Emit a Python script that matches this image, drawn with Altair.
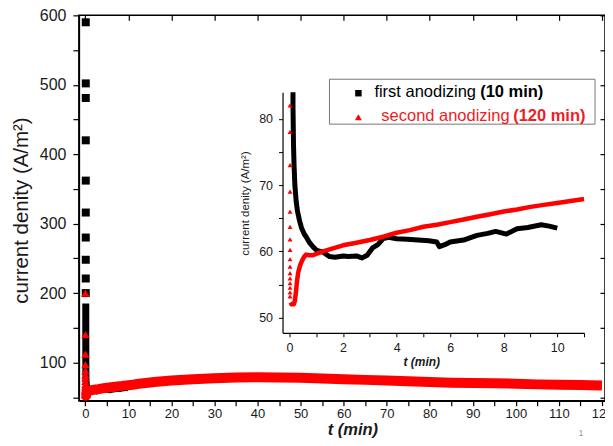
import altair as alt
import pandas as pd

# ---------------- data ----------------
# first anodizing (10 min): isolated start-up spike points
first_spike_t = [0.10, 0.10, 0.10, 0.10, 0.10, 0.10, 0.10, 0.10, 0.10, 0.10]
first_spike_j = [590, 502, 481, 420, 362, 316, 280, 248, 221, 200]
# first anodizing: dense recording
first_t = [0.10, 0.10, 0.10, 0.10, 0.10, 0.11, 0.11, 0.11, 0.11, 0.12, 0.12, 0.12, 0.12, 0.12,
           0.13, 0.13, 0.14, 0.15, 0.17, 0.20, 0.25, 0.30, 0.37, 0.45, 0.55, 0.62, 0.75, 0.87,
           1.00, 1.12, 1.25, 1.38, 1.50, 1.70, 2.00, 2.20, 2.50, 2.70, 2.90, 3.10, 3.30, 3.50,
           3.70, 4.00, 4.40, 4.80, 5.20, 5.50, 5.60, 5.80, 6.00, 6.50, 7.00, 7.40, 7.70, 8.10,
           8.50, 8.90, 9.40, 9.70, 10.00]
first_j = [185, 172, 160, 150, 140, 130, 121, 113, 106, 100, 95, 91, 88, 86,
           84, 82, 79, 76, 73, 70, 67.5, 66, 64.7, 63.5, 62.6, 62.2, 61.3, 60.7,
           60.2, 60.0, 59.9, 59.5, 59.2, 59.1, 59.3, 59.2, 59.3, 59.0, 59.4, 60.5, 61.0, 61.9,
           62.1, 61.9, 61.8, 61.7, 61.6, 61.4, 60.7, 61.0, 61.4, 61.7, 62.4, 62.7, 63.0,
           62.6, 63.4, 63.6, 64.0, 63.8, 63.5]
# second anodizing (120 min): isolated start-up spike points
second_spike_t = [0.02, 0.02, 0.02, 0.02, 0.02, 0.02, 0.02, 0.02, 0.02, 0.02, 0.02,
                  0.02, 0.02, 0.02, 0.02, 0.02, 0.02, 0.02, 0.02, 0.02, 0.02]
second_spike_j = [200, 140, 112, 97, 88, 82, 78, 73, 69, 66, 63.7,
                  61.8, 60.2, 58.8, 57.7, 56.7, 55.9, 55.2, 54.5, 53.8, 53.2]
# second anodizing: dense recording
second_t = [0.04, 0.08, 0.12, 0.16, 0.20, 0.24, 0.28, 0.33, 0.40, 0.47, 0.55, 0.62, 0.75, 0.87,
            1.0, 1.25, 1.5, 2.0, 2.5, 3.0, 3.5, 4.0, 4.5, 5.0, 5.5, 6.0, 6.5, 7.0, 7.5, 8.0,
            8.5, 9.0, 9.5, 10.0, 10.5, 11.0, 12, 14, 16, 18, 20, 25, 30, 35, 40, 45, 50, 55,
            60, 65, 70, 75, 80, 85, 90, 95, 100, 105, 110, 115, 120]
second_j = [52.3, 52.0, 52.0, 52.0, 52.5, 53.8, 55.5, 56.9, 57.9, 58.6, 59.2, 59.5, 59.4, 59.4,
            59.6, 60.0, 60.3, 60.9, 61.3, 61.7, 62.2, 62.8, 63.2, 63.7, 64.0, 64.4, 64.8, 65.2,
            65.6, 66.0, 66.3, 66.7, 67.0, 67.3, 67.6, 67.9, 69.0, 70.5, 72.0, 73.0, 74.0, 76.0,
            77.3, 78.3, 78.8, 78.5, 78.0, 77.0, 76.0, 75.0, 74.0, 73.0, 72.0, 71.0, 70.5, 70.0,
            69.5, 68.5, 68.0, 67.5, 67.0]

# axis ticks / labels
x_ticks = [0, 5, 10, 15, 20, 25, 30, 35, 40, 45, 50, 55, 60, 65, 70, 75, 80, 85, 90, 95,
           100, 105, 110, 115, 120]
x_top_ticks = [0, 10, 20, 30, 40, 50, 60, 70, 80, 90, 100, 110, 120]
y_ticks = [50, 100, 150, 200, 250, 300, 350, 400, 450, 500, 550, 600]
inset_x_ticks = [0, 1, 2, 3, 4, 5, 6, 7, 8, 9, 10, 11]
inset_y_ticks = [50, 55, 60, 65, 70, 75, 80]

legend_plain = ["first anodizing ", "second anodizing "]
legend_bold = ["(10 min)", "(120 min)"]
y_title = "current denity (A/m\u00b2)"
x_title = "t (min)"


def frame(t, j):
    return pd.DataFrame({"t": t, "j": j, "k": list(range(len(t)))})


fs = frame(first_spike_t, first_spike_j)
fc = frame(first_t, first_j)
ss = frame(second_spike_t, second_spike_j)
sc = frame(second_t, second_j)

FONT = "Liberation Sans"
RED = "#ff0000"
TXT = "#1a1a1a"

main_x = alt.Scale(domain=[-1.5, 120.7], nice=False, zero=False)
main_y = alt.Scale(domain=[45, 600], nice=False, zero=False)
ins_x = alt.Scale(domain=[-0.26, 11.0], range=[204, 506], nice=False, zero=False)
ins_y = alt.Scale(domain=[47.7, 84.0], range=[318, 77], nice=False, zero=False)

x_axis_main = alt.Axis(
    orient="bottom", values=x_ticks,
    labelExpr="datum.value % 10 === 0 ? datum.label : ''",
    labelFontSize=13, labelColor=TXT, labelPadding=2, labelFlush=False, labelOverlap=False,
    tickSize=5, tickColor="black", tickWidth=1.2,
    domainColor="black", domainWidth=1.5, grid=False,
    title=x_title, titleFontSize=16.5, titleFontStyle="italic", titleFontWeight="bold",
    titleColor=TXT, titleX=274, titleY=34, titleAlign="center", titleBaseline="alphabetic",
)
y_axis_main = alt.Axis(
    orient="left", values=y_ticks,
    labelExpr="datum.value % 100 === 0 ? datum.label : ''",
    labelFontSize=16, labelColor=TXT, labelPadding=7, labelFlush=False, labelOverlap=False,
    tickSize=6, tickColor="black", tickWidth=1.2,
    domainColor="black", domainWidth=1.5, grid=False,
    title=y_title, titleFontSize=20.5, titleFontWeight="normal", titleColor=TXT,
    titleAngle=270, titleX=-57, titleY=195, titleAlign="center", titleBaseline="middle",
)
x_axis_top = alt.Axis(orient="top", values=x_top_ticks, labels=False, domain=False,
                      tickSize=5, tickColor="black", tickWidth=1.2, offset=-5, grid=False,
                      title=None)
y_axis_right = alt.Axis(orient="right", values=y_ticks, labels=False, domain=False,
                        tickSize=5, tickColor="black", tickWidth=1.2, offset=-5, grid=False,
                        title=None)
x_axis_ins = alt.Axis(
    orient="bottom", offset=-68, values=inset_x_ticks,
    labelExpr="(datum.value % 2 === 0 && datum.value <= 10) ? datum.label : ''",
    labelFontSize=12.5, labelColor=TXT, labelPadding=5, labelFlush=False, labelOverlap=False,
    tickSize=4, tickColor="black", tickWidth=1, domainColor="black", domainWidth=1.2,
    grid=False, title=x_title, titleFontSize=12, titleFontStyle="italic",
    titleFontWeight="bold", titleColor=TXT, titleX=343, titleY=29,
    titleAlign="center", titleBaseline="middle",
)
y_axis_ins = alt.Axis(
    orient="left", offset=-204, values=inset_y_ticks,
    labelExpr="datum.value % 10 === 0 ? datum.label : ''",
    labelFontSize=12.5, labelColor=TXT, labelPadding=6, labelFlush=False, labelOverlap=False,
    tickSize=4, tickColor="black", tickWidth=1, domainColor="black", domainWidth=1.2,
    grid=False, title=y_title, titleFontSize=11.5, titleFontWeight="normal",
    titleColor=TXT, titleAngle=270, titleX=-37, titleY=188,
    titleAlign="center", titleBaseline="middle",
)

# ---------------- main plot ----------------
main_black_line = alt.Chart(fc).mark_line(color="black", strokeWidth=7, strokeJoin="round").encode(
    x=alt.X("t:Q", scale=main_x, axis=x_axis_main),
    y=alt.Y("j:Q", scale=main_y, axis=y_axis_main),
    order="k:Q",
)
main_black_pts = alt.Chart(fs).mark_point(shape="square", filled=True, size=64,
                                          color="black", opacity=1).encode(
    x=alt.X("t:Q", scale=main_x, axis=None),
    y=alt.Y("j:Q", scale=main_y, axis=None),
)
main_red_line = alt.Chart(sc).mark_line(color=RED, strokeWidth=10, strokeJoin="round").encode(
    x=alt.X("t:Q", scale=main_x, axis=None),
    y=alt.Y("j:Q", scale=main_y, axis=None),
    order="k:Q",
)
main_red_pts = alt.Chart(ss).mark_point(shape="triangle-up", filled=True, size=70,
                                        color=RED, opacity=1).encode(
    x=alt.X("t:Q", scale=main_x, axis=None),
    y=alt.Y("j:Q", scale=main_y, axis=None),
)
mirror = alt.Chart(fs).mark_point(opacity=0).encode(
    x=alt.X("t:Q", scale=main_x, axis=x_axis_top),
    y=alt.Y("j:Q", scale=main_y, axis=y_axis_right),
)

# ---------------- inset ----------------
ins_black_line = alt.Chart(fc).transform_filter("datum.j <= 84.2").mark_line(
    color="black", strokeWidth=5, strokeJoin="round").encode(
    x=alt.X("t:Q", scale=ins_x, axis=x_axis_ins),
    y=alt.Y("j:Q", scale=ins_y, axis=y_axis_ins),
    order="k:Q",
)
ins_red_line = alt.Chart(sc).transform_filter("datum.t <= 11").mark_line(
    color=RED, strokeWidth=4.5, strokeJoin="round").encode(
    x=alt.X("t:Q", scale=ins_x, axis=None),
    y=alt.Y("j:Q", scale=ins_y, axis=None),
    order="k:Q",
)
ins_red_pts = alt.Chart(ss).transform_filter("datum.j <= 84").mark_point(
    shape="triangle-up", filled=True, size=24, color=RED, opacity=1).encode(
    x=alt.X("t:Q", scale=ins_x, axis=None),
    y=alt.Y("j:Q", scale=ins_y, axis=None),
)

# ---------------- legend ----------------
leg_df = pd.DataFrame({"plain": legend_plain, "bold": legend_bold})
leg_box = alt.Chart(leg_df.head(1)).mark_rect(fill="white", stroke="#777777", strokeWidth=1).encode(
    x=alt.value(251), x2=alt.value(517), y=alt.value(64), y2=alt.value(109))
leg_sq = alt.Chart(leg_df.head(1)).mark_point(shape="square", filled=True, size=42,
                                              color="black", opacity=1).encode(
    x=alt.value(280), y=alt.value(78))
leg_tri = alt.Chart(leg_df.head(1)).mark_point(shape="triangle-up", filled=True, size=48,
                                               color=RED, opacity=1).encode(
    x=alt.value(280), y=alt.value(102))
leg_t1 = alt.Chart(leg_df.iloc[[0]]).mark_text(align="left", baseline="middle", fontSize=16.5,
                                               color="black", font=FONT).encode(
    x=alt.value(296), y=alt.value(77), text="plain:N")
leg_t1b = alt.Chart(leg_df.iloc[[0]]).mark_text(align="left", baseline="middle", fontSize=16.5,
                                                fontWeight="bold", color="black", font=FONT).encode(
    x=alt.value(402), y=alt.value(77), text="bold:N")
leg_t2 = alt.Chart(leg_df.iloc[[1]]).mark_text(align="left", baseline="middle", fontSize=16.5,
                                               color="#ee1c25", font=FONT).encode(
    x=alt.value(303), y=alt.value(101), text="plain:N")
leg_t2b = alt.Chart(leg_df.iloc[[1]]).mark_text(align="left", baseline="middle", fontSize=16.5,
                                                fontWeight="bold", color="#ee1c25", font=FONT).encode(
    x=alt.value(435), y=alt.value(101), text="bold:N")
page_no = alt.Chart(pd.DataFrame({"s": ["1"]})).mark_text(
    fontSize=9, color="#999999", font=FONT).encode(x=alt.value(503), y=alt.value(418), text="s:N")

chart = alt.layer(
    mirror, main_black_line, main_black_pts, main_red_line, main_red_pts,
    ins_black_line, ins_red_line, ins_red_pts,
    leg_box, leg_sq, leg_tri, leg_t1, leg_t1b, leg_t2, leg_t2b, page_no,
).resolve_scale(x="independent", y="independent").resolve_axis(
    x="independent", y="independent"
).properties(
    width=527, height=386,
    autosize=alt.AutoSizeParams(type="none"),
    padding={"left": 71, "top": 7, "right": 0, "bottom": 37},
    background="white",
).configure_view(stroke="black", strokeWidth=1.5).configure_axis(
    labelFont=FONT, titleFont=FONT
).configure_text(font=FONT)

chart.save("out.html", embed_options={"renderer": "svg", "actions": False})
